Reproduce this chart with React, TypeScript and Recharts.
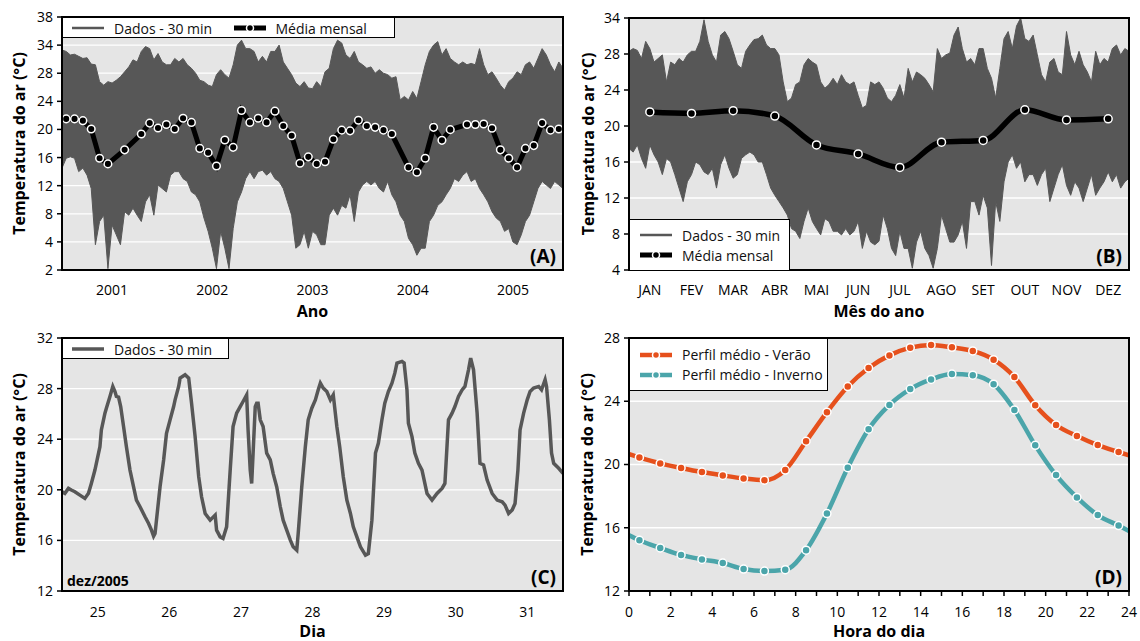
import React from 'react';
import {
  Area,
  CartesianGrid,
  ComposedChart,
  Label,
  Legend,
  Line,
  LineChart,
  ReferenceArea,
  XAxis,
  YAxis,
} from 'recharts';

const FONTE = "'Open Sans', 'Noto Sans', sans-serif";
const CINZA = '#575757';
const LARANJA = '#e6501c';
const AZUL = '#4ba5aa';
const FUNDO = '#e5e5e5';

// ---- (A) serie 2001-2005: envoltoria dos dados de 30 min (a cada meio mes) e media mensal
const anosA = [2001, 2002, 2003, 2004, 2005];
const dadosAMax = [
  31.3, 31.1, 30.6, 30.7, 30.4, 30.1, 30.2, 29.3, 29.2, 26.8,
  26.3, 26.8, 26.6, 27.0, 27.5, 28.2, 28.9, 29.9, 29.6, 31.1,
  31.8, 31.5, 29.9, 30.8, 29.6, 29.2, 29.2, 30.1, 29.6, 30.1,
  29.2, 28.7, 28.0, 27.0, 26.8, 26.3, 26.1, 27.8, 28.5, 27.8,
  27.3, 29.2, 32.0, 32.7, 31.5, 31.5, 31.1, 29.6, 30.4, 29.6,
  31.1, 31.1, 32.0, 29.6, 28.7, 27.8, 26.6, 26.1, 26.8, 25.9,
  25.8,
  26.8, 26.1, 28.2, 28.7, 31.5, 32.7, 32.3, 30.6, 30.1, 31.1,
  29.6, 29.2, 28.7, 28.9, 28.0, 28.5, 28.0, 27.8, 27.3, 27.5,
  24.2, 24.7, 24.2, 25.4, 24.4, 26.8, 29.2, 31.1, 32.0, 32.5,
  30.6, 31.5, 30.1, 29.6, 29.2, 29.6, 29.2, 29.4, 29.2, 31.5,
  29.2, 27.8, 28.2, 27.3, 26.3, 25.6, 26.8, 27.3, 28.2, 27.8,
  29.2, 29.6, 28.7, 30.1, 31.5, 30.6, 29.2, 28.2, 29.6, 28.7,
];
const dadosAMin = [
  14.5, 15.9, 16.1, 15.9, 14.0, 14.5, 13.5, 11.6, 3.6, 6.9,
  7.8, 0.2, 6.4, 5.0, 3.6, 8.3, 7.8, 8.8, 7.8, 6.9,
  9.7, 10.7, 7.8, 12.1, 11.6, 11.1, 13.5, 14.0, 14.0, 13.0,
  12.6, 11.1, 10.7, 9.7, 7.4, 5.5, 3.1, 0.2, 5.5, 3.1,
  0.2, 5.9, 9.7, 11.1, 13.0, 14.0, 13.0, 14.0, 14.2, 13.5,
  14.0, 13.0, 12.6, 11.6, 9.7, 7.8, 3.1, 3.6, 5.5, 3.1,
  5.5,
  5.0, 3.6, 3.6, 7.8, 8.8, 7.8, 9.2, 8.8, 10.7, 6.9,
  11.1, 12.1, 12.6, 12.1, 12.6, 11.6, 11.1, 12.6, 10.7, 9.7,
  7.8, 6.9, 4.5, 3.6, 2.1, 3.1, 3.1, 6.9, 7.8, 9.2,
  9.7, 10.7, 11.6, 13.0, 12.6, 13.5, 14.0, 12.6, 13.0, 11.6,
  10.7, 9.7, 8.3, 7.4, 6.9, 5.5, 5.9, 4.0, 3.6, 5.0,
  6.9, 7.8, 9.7, 11.6, 12.6, 12.1, 11.6, 12.6, 12.1, 11.6,
];
const mediaMensalA = [
  21.5, 21.5, 21.25, 20.06, 15.9, 15.1, null, 17.1, null, 19.35, 20.9, 20.2,
  20.7, 20.06, 21.6, 21.0, 17.3, 16.7, 14.8, 18.5, 17.45, 22.7, 21.0, 21.6,
  21.0, 22.6, 20.5, 19.1, 15.2, 16.1, 15.1, 15.4, 18.6, 19.9, 19.8, 21.3,
  20.5, 20.3, 19.9, 19.35, null, 14.6, 13.9, 15.9, 20.3, 18.45, 19.97, null,
  20.7, 20.7, 20.77, 20.16, 17.1, 15.9, 14.6, 17.3, 17.7, 20.9, 19.9, 20.06,
];
const ticksYA = [0, 4, 8, 12, 16, 20, 24, 28, 32, 36];
const rotulosYA = ['2', '4', '8', '12', '16', '20', '24', '28', '34', '38'];

// ---- (B) ano tipico: envoltoria (a cada decimo de mes) e media mensal
const mesesB = ['JAN', 'FEV', 'MAR', 'ABR', 'MAI', 'JUN', 'JUL', 'AGO', 'SET', 'OUT', 'NOV', 'DEZ'];
const dadosBMax = [
  28.3, 28.6, 28.4, 27.5, 29.4, 28.6, 27.1, 27.5, 27.9, 24.9,
  27.1, 26.8, 27.5, 27.1, 27.9, 28.3, 28.3, 29.4, 31.8, 29.4,
  27.9, 27.1, 30.1, 30.5, 29.7, 28.3, 26.8, 26.4, 28.3, 29.0,
  29.6, 29.7, 30.1, 29.0, 28.6, 28.6, 27.9, 24.9, 22.7, 23.1,
  24.6, 24.9, 26.8, 27.5, 27.1, 26.8, 24.9, 24.2, 24.6, 25.3,
  24.6, 25.7, 24.9, 24.6, 24.9, 23.4, 22.0, 22.3, 24.9, 24.6,
  24.9,
  24.2, 23.1, 22.7, 23.4, 24.6, 23.1, 26.4, 24.9, 26.0,
  25.7, 25.3, 24.6, 23.8, 28.6, 27.5, 27.9, 28.1, 30.1, 31.0,
  28.6, 27.1, 27.5, 26.8, 28.6, 28.6, 26.4, 25.3, 23.1, 26.4,
  29.7, 30.5, 28.6, 31.1, 32.0, 29.7, 29.4, 30.1, 27.9, 25.7,
  24.9, 27.1, 27.5, 26.0, 25.7, 30.5, 27.9, 26.8, 28.3, 26.8,
  26.0, 24.9, 28.3, 26.8, 27.5, 27.1, 28.6, 29.0, 27.9, 28.6,
  28.3,
];
const dadosBMin = [
  17.5, 17.1, 17.9, 16.4, 15.3, 17.9, 16.8, 16.0, 14.6, 16.4,
  16.0, 14.6, 13.1, 11.6, 13.8, 14.6, 16.0, 15.7, 14.9, 14.6,
  15.3, 13.1, 15.7, 16.8, 15.3, 14.2, 14.6, 16.4, 16.8, 17.1,
  16.8, 16.0, 16.0, 14.6, 13.1, 12.3, 11.6, 10.9, 10.1, 8.6,
  8.3, 7.5, 9.4, 10.9, 9.4, 8.6, 7.9, 9.7, 9.4, 8.3,
  8.3, 7.9, 8.6, 7.9, 8.3, 9.4, 6.4, 8.3, 7.1, 6.8,
  7.2,
  10.1, 8.6, 6.4, 5.6, 8.3, 6.4, 6.4, 4.2, 7.1,
  8.3, 6.4, 5.6, 4.2, 6.4, 10.1, 8.6, 7.1, 7.1, 7.9,
  9.4, 6.4, 11.6, 11.6, 10.1, 12.3, 10.9, 4.5, 11.6, 9.4,
  13.8, 16.0, 16.8, 15.3, 16.0, 13.8, 14.6, 14.6, 13.4, 14.6,
  15.3, 11.6, 13.1, 14.6, 15.7, 13.4, 12.3, 13.8, 13.1, 11.6,
  13.1, 14.6, 12.3, 13.1, 13.8, 14.9, 13.8, 14.6, 13.1, 13.8,
  14.2,
];
const mediaMensalB = [21.56, 21.4, 21.7, 21.1, 17.9, 16.9, 15.4, 18.2, 18.4, 21.8, 20.67, 20.8];
const ticksYB = [4, 8, 12, 16, 20, 24, 28, 32];
const rotulosYB = ['4', '8', '12', '16', '20', '24', '28', '34'];

// ---- (C) semana de dez/2005, dados de 30 min
const diasC = [25, 26, 27, 28, 29, 30, 31];
const tempoC = [
  25.00, 25.04, 25.09, 25.13, 25.18, 25.25, 25.32, 25.37, 25.41, 25.46,
  25.53, 25.55, 25.60, 25.62, 25.67, 25.71, 25.74, 25.76, 25.79, 25.82,
  25.86, 25.90, 25.95, 26.00, 26.04, 26.09, 26.16, 26.21, 26.25, 26.28,
  26.30, 26.32, 26.37, 26.42, 26.46, 26.51, 26.56, 26.58, 26.63, 26.65,
  26.72, 26.77, 26.81, 26.86, 26.91, 26.95, 27.00, 27.07, 27.14, 27.16,
  27.21, 27.25, 27.30, 27.35, 27.39, 27.44, 27.49, 27.53, 27.58, 27.60,
  27.63, 27.65, 27.67, 27.70, 27.72, 27.74, 27.77, 27.81, 27.86, 27.91,
  27.95, 28.00, 28.05, 28.09, 28.14, 28.19, 28.23, 28.28, 28.30, 28.35,
  28.40, 28.44, 28.49, 28.54, 28.58, 28.61, 28.65, 28.70, 28.75, 28.79,
  28.84, 28.88, 28.93, 28.98, 29.03, 29.07, 29.12, 29.17, 29.24, 29.28,
  29.33, 29.38, 29.42, 29.47, 29.51, 29.56, 29.61, 29.65, 29.68, 29.75,
  29.78, 29.82, 29.84, 29.89, 29.93, 29.98, 30.03, 30.10, 30.17, 30.24,
  30.31, 30.35, 30.40, 30.45, 30.49, 30.54, 30.59, 30.63, 30.68, 30.71,
  30.75, 30.80, 30.84, 30.89, 30.94, 31.01, 31.08, 31.15, 31.19, 31.24,
  31.29, 31.33, 31.37, 31.40, 31.45, 31.50, 31.54, 31.59, 31.66, 31.70,
  31.75, 31.77, 31.81, 31.84, 31.87, 31.94, 32.00,
];
const tempC = [
  19.85, 19.72, 20.11, 19.98, 19.85, 19.58, 19.32, 19.72, 20.5, 21.56,
  23.41, 24.73, 26.06, 26.45, 27.38, 28.17, 27.77, 27.38, 27.32, 26.58,
  25.0, 23.41, 21.56, 20.24, 19.19, 18.66, 17.87, 17.34, 16.81, 16.33,
  16.54, 17.6, 20.24, 22.36, 24.47, 25.53, 26.58, 27.11, 28.17, 28.83,
  29.09, 28.83, 26.85, 24.2, 21.04, 19.45, 18.13, 17.6, 18.0, 16.81,
  16.28, 16.15, 17.07, 21.56, 25.0, 26.06, 26.58, 26.98, 27.5, 24.73,
  21.56, 20.5, 22.9, 26.58, 26.85, 26.85, 25.53, 25.0, 22.9, 22.36,
  21.3, 20.24, 18.66, 17.6, 16.81, 16.02, 15.49, 15.22, 16.54, 20.24,
  23.41, 25.53, 26.45, 27.11, 27.9, 28.43, 28.04, 27.77, 27.11, 27.5,
  25.0, 23.41, 21.04, 19.19, 18.13, 17.07, 16.28, 15.49, 14.83, 14.96,
  17.6, 22.9, 23.68, 25.53, 26.85, 27.77, 28.43, 29.22, 30.02, 30.15,
  30.02, 27.9, 25.26, 24.2, 22.9, 22.09, 21.56, 19.71, 19.19, 19.71,
  20.11, 20.5, 25.53, 26.06, 26.58, 27.38, 27.9, 28.17, 29.49, 30.41,
  29.49, 26.06, 22.09, 21.96, 20.77, 19.71, 19.19, 19.05, 18.79, 18.13,
  18.4, 18.92, 21.56, 24.73, 26.06, 27.11, 27.77, 28.04, 28.17, 27.9,
  28.7, 28.17, 25.53, 22.9, 22.09, 21.7, 21.3,
];

// ---- (D) perfil medio diario
const horasD = [0, 0.5, 1.5, 2.5, 3.5, 4.5, 5.5, 6.5, 7.5, 8.5, 9.5, 10.5, 11.5, 12.5, 13.5, 14.5, 15.5, 16.5, 17.5, 18.5, 19.5, 20.5, 21.5, 22.5, 23.5, 24];
const veraoD = [20.66, 20.45, 20.07, 19.78, 19.52, 19.31, 19.12, 19.01, 19.65, 21.47, 23.31, 24.93, 26.1, 26.9, 27.39, 27.56, 27.41, 27.18, 26.63, 25.53, 23.75, 22.5, 21.8, 21.23, 20.79, 20.58];
const invernoD = [15.53, 15.21, 14.72, 14.28, 14.0, 13.77, 13.39, 13.26, 13.35, 14.58, 16.9, 19.8, 22.23, 23.77, 24.77, 25.38, 25.72, 25.65, 25.08, 23.45, 21.21, 19.33, 17.92, 16.8, 16.14, 15.8];

const dataA = dadosAMax.map((max, k) => ({
  t: 2001 + k / 24,
  faixa: [dadosAMin[k], max],
  media: k % 2 === 1 ? mediaMensalA[(k - 1) / 2] : undefined,
}));
const dataB = dadosBMax.map((max, k) => ({
  m: k / 10,
  faixa: [dadosBMin[k], max],
  media: k % 10 === 5 ? mediaMensalB[(k - 5) / 10] : undefined,
}));
const dataC = tempoC.map((d, i) => ({ d, temp: tempC[i] }));
const dataD = horasD.map((h, i) => ({ h, verao: veraoD[i], inverno: invernoD[i] }));

const tickTxt = { fontSize: 14, fill: '#000', fontFamily: FONTE };
const tituloTxt = { fontSize: 16, fontWeight: 700, fill: '#000', fontFamily: FONTE };
const painelTxt = { fontSize: 19, fontWeight: 700, fill: '#000', fontFamily: FONTE };
const linhaTick = { stroke: '#000', strokeWidth: 1.5 };

type ItemLegenda = { rotulo: string; cor: string; espessura: number; ponto?: boolean };

function Amostra({ item }: { item: ItemLegenda }) {
  return (
    <svg width={34} height={12} style={{ flex: 'none', display: 'block' }}>
      <line x1={1} x2={33} y1={6} y2={6} stroke={item.cor} strokeWidth={item.espessura} />
      {item.ponto && <circle cx={17} cy={6} r={3.5} fill={item.cor} stroke="#fff" strokeWidth={1.5} />}
    </svg>
  );
}

function CaixaLegenda({ itens, linha, larguraItem }: { itens: ItemLegenda[]; linha: boolean; larguraItem?: number }) {
  return (
    <div
      style={{
        boxSizing: 'border-box',
        width: '100%',
        height: '100%',
        background: '#fff',
        border: '1px solid #000',
        display: 'flex',
        flexDirection: linha ? 'row' : 'column',
        justifyContent: 'center',
        padding: linha ? '0 0 0 8px' : '0 0 0 9px',
        fontFamily: FONTE,
        fontSize: 14,
        color: '#111',
      }}
    >
      {itens.map((it) => (
        <div key={it.rotulo} style={{ display: 'flex', alignItems: 'center', height: 20, width: linha ? larguraItem : undefined }}>
          <Amostra item={it} />
          <span style={{ marginLeft: 9, whiteSpace: 'nowrap' }}>{it.rotulo}</span>
        </div>
      ))}
    </div>
  );
}

const legendaDados = (esp: number): ItemLegenda => ({ rotulo: 'Dados - 30 min', cor: CINZA, espessura: esp });
const legendaMedia: ItemLegenda = { rotulo: 'Média mensal', cor: '#000', espessura: 5, ponto: true };

const pontoHora = (cor: string) => (props: any) => {
  const { cx, cy, payload, index } = props;
  if (payload.h % 1 === 0) return <g key={`p${index}`} />;
  return <circle key={`p${index}`} cx={cx} cy={cy} r={4} fill={cor} stroke="#fff" strokeWidth={1.5} />;
};

function PainelA() {
  return (
    <ComposedChart width={570} height={330} data={dataA} margin={{ top: 17, right: 7, bottom: 0, left: 0 }}>
      <CartesianGrid vertical={false} stroke="#fff" strokeWidth={1.3} fill={FUNDO} xAxisId="marcas" yAxisId="temp" />
      <XAxis xAxisId="marcas" dataKey="t" type="number" domain={[2001, 2006]} allowDataOverflow ticks={[2001, 2002, 2003, 2004, 2005, 2006]} interval={0} tick={false} axisLine={false} tickLine={linhaTick} tickSize={6} height={0} />
      <XAxis xAxisId="rotulos" dataKey="t" type="number" domain={[2001, 2006]} allowDataOverflow ticks={anosA.map((a) => a + 0.5)} interval={0} tickFormatter={(v) => String(Math.floor(v))} axisLine={false} tickLine={false} tickSize={6} tickMargin={9} height={60} tick={tickTxt}>
        <Label value="Ano" position="insideBottom" offset={13} style={tituloTxt} />
      </XAxis>
      <YAxis yAxisId="temp" type="number" domain={[0, 36]} allowDataOverflow ticks={ticksYA} interval={0} tickFormatter={(v) => rotulosYA[ticksYA.indexOf(v)]} width={62} axisLine={false} tickLine={linhaTick} tickSize={5} tickMargin={4} tick={tickTxt}>
        <Label value="Temperatura do ar (°C)" angle={-90} position="insideLeft" offset={19} style={{ ...tituloTxt, textAnchor: 'middle' }} />
      </YAxis>
      <Area xAxisId="marcas" yAxisId="temp" dataKey="faixa" type="linear" stroke={CINZA} strokeWidth={1} fill={CINZA} fillOpacity={1} dot={false} activeDot={false} isAnimationActive={false} />
      <Line xAxisId="marcas" yAxisId="temp" dataKey="media" type="linear" connectNulls stroke="#000" strokeWidth={5} dot={{ r: 3.8, fill: '#000', stroke: '#fff', strokeWidth: 1.5 }} activeDot={false} isAnimationActive={false} />
      <ReferenceArea xAxisId="marcas" yAxisId="temp" x1={2001} x2={2006} y1={0} y2={36} fill="none" fillOpacity={0} stroke="#000" strokeWidth={2} ifOverflow="visible" zIndex={1500}>
        <Label value="(A)" position="insideBottomRight" offset={7} style={painelTxt} />
      </ReferenceArea>
      <Legend layout="vertical" align="center" verticalAlign="middle" wrapperStyle={{ left: 62, top: 17, width: 333, height: 21 }} content={() => <CaixaLegenda itens={[legendaDados(2.5), legendaMedia]} linha larguraItem={183} />} />
    </ComposedChart>
  );
}

function PainelB() {
  return (
    <ComposedChart width={570} height={330} data={dataB} margin={{ top: 18, right: 11, bottom: 0, left: 0 }}>
      <CartesianGrid vertical={false} stroke="#fff" strokeWidth={1.3} fill={FUNDO} xAxisId="marcas" yAxisId="temp" />
      <XAxis xAxisId="marcas" dataKey="m" type="number" domain={[0, 12]} allowDataOverflow ticks={[0, 1, 2, 3, 4, 5, 6, 7, 8, 9, 10, 11, 12]} interval={0} tick={false} axisLine={false} tickLine={linhaTick} tickSize={6} height={0} />
      <XAxis xAxisId="rotulos" dataKey="m" type="number" domain={[0, 12]} allowDataOverflow ticks={mesesB.map((_, i) => i + 0.5)} interval={0} tickFormatter={(v) => mesesB[Math.floor(v)]} axisLine={false} tickLine={false} tickSize={6} tickMargin={9} height={60} tick={tickTxt}>
        <Label value="Mês do ano" position="insideBottom" offset={13} style={tituloTxt} />
      </XAxis>
      <YAxis yAxisId="temp" type="number" domain={[4, 32]} allowDataOverflow ticks={ticksYB} interval={0} tickFormatter={(v) => rotulosYB[ticksYB.indexOf(v)]} width={59} axisLine={false} tickLine={linhaTick} tickSize={5} tickMargin={4} tick={tickTxt}>
        <Label value="Temperatura do ar (°C)" angle={-90} position="insideLeft" offset={18} style={{ ...tituloTxt, textAnchor: 'middle' }} />
      </YAxis>
      <Area xAxisId="marcas" yAxisId="temp" dataKey="faixa" type="linear" stroke={CINZA} strokeWidth={1} fill={CINZA} fillOpacity={1} dot={false} activeDot={false} isAnimationActive={false} />
      <Line xAxisId="marcas" yAxisId="temp" dataKey="media" type="monotone" connectNulls stroke="#000" strokeWidth={5.5} dot={{ r: 4, fill: '#000', stroke: '#fff', strokeWidth: 1.5 }} activeDot={false} isAnimationActive={false} />
      <ReferenceArea xAxisId="marcas" yAxisId="temp" x1={0} x2={12} y1={4} y2={32} fill="none" fillOpacity={0} stroke="#000" strokeWidth={2} ifOverflow="visible" zIndex={1500}>
        <Label value="(B)" position="insideBottomRight" offset={7} style={painelTxt} />
      </ReferenceArea>
      <Legend layout="vertical" align="center" verticalAlign="middle" wrapperStyle={{ left: 59, top: 219, width: 161, height: 52 }} content={() => <CaixaLegenda itens={[legendaDados(2.5), legendaMedia]} linha={false} />} />
    </ComposedChart>
  );
}

function PainelC() {
  return (
    <LineChart width={570} height={321} data={dataC} margin={{ top: 18, right: 7, bottom: 0, left: 0 }}>
      <CartesianGrid vertical={false} stroke="#fff" strokeWidth={1.3} fill={FUNDO} xAxisId="marcas" />
      <XAxis xAxisId="marcas" dataKey="d" type="number" domain={[25, 32]} allowDataOverflow ticks={[25, 26, 27, 28, 29, 30, 31, 32]} interval={0} tick={false} axisLine={false} tickLine={linhaTick} tickSize={6} height={0} />
      <XAxis xAxisId="rotulos" dataKey="d" type="number" domain={[25, 32]} allowDataOverflow ticks={diasC.map((d) => d + 0.5)} interval={0} tickFormatter={(v) => String(Math.floor(v))} axisLine={false} tickLine={false} tickSize={6} tickMargin={10} height={50} tick={tickTxt}>
        <Label value="Dia" position="insideBottom" offset={4} style={tituloTxt} />
      </XAxis>
      <YAxis type="number" domain={[12, 32]} allowDataOverflow ticks={[12, 16, 20, 24, 28, 32]} interval={0} width={62} axisLine={false} tickLine={linhaTick} tickSize={5} tickMargin={4} tick={tickTxt}>
        <Label value="Temperatura do ar (°C)" angle={-90} position="insideLeft" offset={19} style={{ ...tituloTxt, textAnchor: 'middle' }} />
      </YAxis>
      <Line xAxisId="marcas" dataKey="temp" type="linear" stroke="#575757" strokeWidth={3.5} dot={false} activeDot={false} isAnimationActive={false} />
      <ReferenceArea xAxisId="marcas" x1={25} x2={32} y1={12} y2={32} fill="none" fillOpacity={0} stroke="#000" strokeWidth={2} ifOverflow="visible" zIndex={1500}>
        <Label value="(C)" position="insideBottomRight" offset={7} style={painelTxt} />
        <Label value="dez/2005" position="insideBottomLeft" offset={5} style={{ ...tituloTxt, fontSize: 14 }} />
      </ReferenceArea>
      <Legend layout="vertical" align="center" verticalAlign="middle" wrapperStyle={{ left: 62, top: 18, width: 167, height: 21 }} content={() => <CaixaLegenda itens={[legendaDados(3.5)]} linha larguraItem={160} />} />
    </LineChart>
  );
}

function PainelD() {
  return (
    <LineChart width={570} height={321} data={dataD} margin={{ top: 18, right: 11, bottom: 0, left: 0 }}>
      <CartesianGrid vertical={false} stroke="#fff" strokeWidth={1.3} fill={FUNDO} />
      <XAxis dataKey="h" type="number" domain={[0, 24]} allowDataOverflow ticks={Array.from({ length: 25 }, (_, i) => i)} interval={0} tickFormatter={(v) => (v % 2 === 0 ? String(v) : '')} axisLine={false} tickLine={linhaTick} tickSize={5} tickMargin={11} height={50} tick={tickTxt}>
        <Label value="Hora do dia" position="insideBottom" offset={4} style={tituloTxt} />
      </XAxis>
      <YAxis type="number" domain={[12, 28]} allowDataOverflow ticks={[12, 16, 20, 24, 28]} interval={0} width={59} axisLine={false} tickLine={linhaTick} tickSize={5} tickMargin={4} tick={tickTxt}>
        <Label value="Temperatura do ar (°C)" angle={-90} position="insideLeft" offset={17} style={{ ...tituloTxt, textAnchor: 'middle' }} />
      </YAxis>
      <Line dataKey="verao" type="monotone" stroke={LARANJA} strokeWidth={4.5} dot={pontoHora(LARANJA)} activeDot={false} isAnimationActive={false} />
      <Line dataKey="inverno" type="monotone" stroke={AZUL} strokeWidth={4.5} dot={pontoHora(AZUL)} activeDot={false} isAnimationActive={false} />
      <ReferenceArea x1={0} x2={24} y1={12} y2={28} fill="none" fillOpacity={0} stroke="#000" strokeWidth={2} ifOverflow="visible" zIndex={1500}>
        <Label value="(D)" position="insideBottomRight" offset={7} style={painelTxt} />
      </ReferenceArea>
      <Legend
        layout="vertical"
        align="center"
        verticalAlign="middle"
        wrapperStyle={{ left: 59, top: 18, width: 199, height: 53 }}
        content={() => (
          <CaixaLegenda
            itens={[
              { rotulo: 'Perfil médio - Verão', cor: LARANJA, espessura: 4.5, ponto: true },
              { rotulo: 'Perfil médio - Inverno', cor: AZUL, espessura: 4.5, ponto: true },
            ]}
            linha={false}
          />
        )}
      />
    </LineChart>
  );
}

export default function App() {
  return (
    <div style={{ position: 'absolute', left: 0, top: 0, width: 1140, height: 641, background: '#fff', fontFamily: FONTE, overflow: 'hidden' }}>
      <div style={{ position: 'absolute', left: 0, top: 0 }}>
        <PainelA />
      </div>
      <div style={{ position: 'absolute', left: 570, top: 0 }}>
        <PainelB />
      </div>
      <div style={{ position: 'absolute', left: 0, top: 320 }}>
        <PainelC />
      </div>
      <div style={{ position: 'absolute', left: 570, top: 320 }}>
        <PainelD />
      </div>
    </div>
  );
}
